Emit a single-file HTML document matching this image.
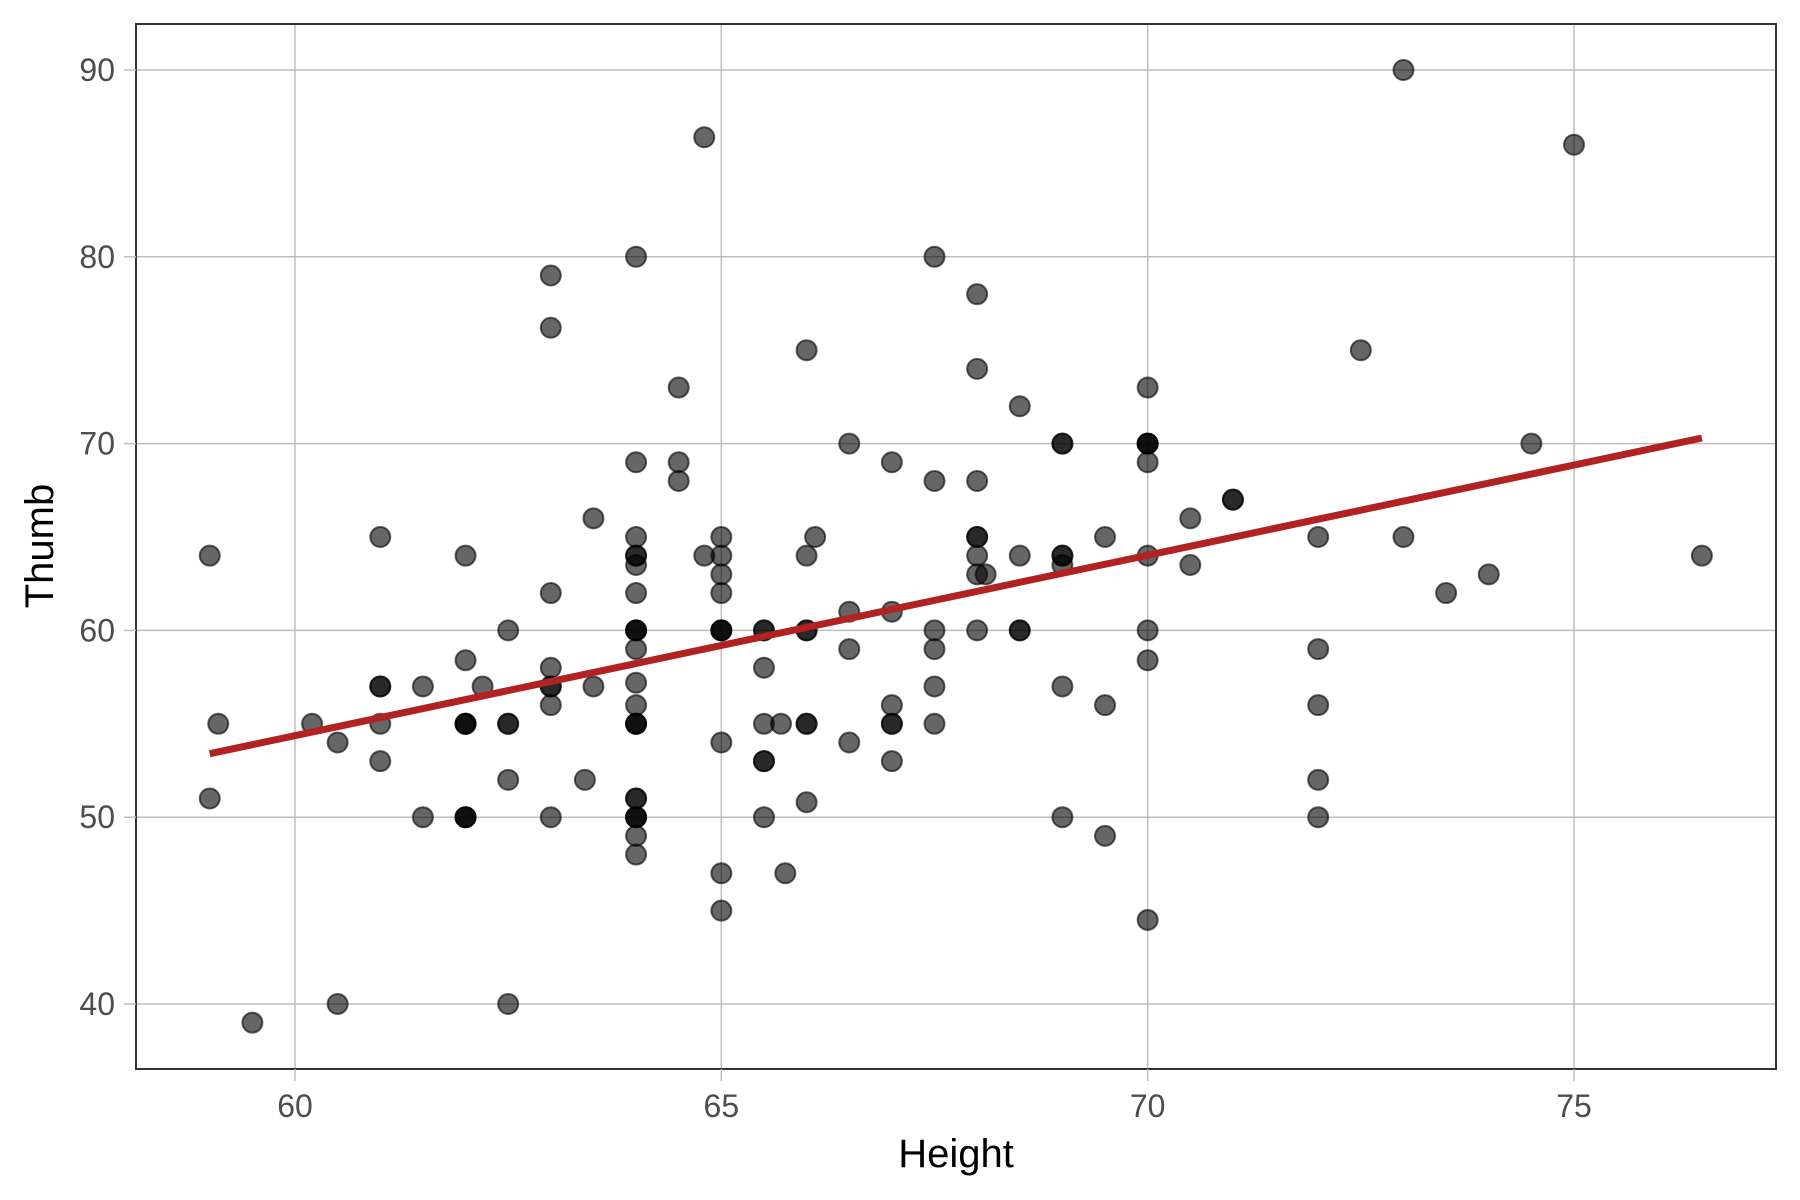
<!DOCTYPE html>
<html><head><meta charset="utf-8"><style>
html,body{margin:0;padding:0;background:#fff}
svg{display:block;font-family:"Liberation Sans",sans-serif}
</style></head><body>
<svg id="chart" width="1800" height="1200" viewBox="0 0 1800 1200">
<rect x="0" y="0" width="1800" height="1200" fill="#fff"/>
<g id="grid"></g>
<g id="pts"></g>
<g id="fit"></g>
<rect x="136" y="24" width="1640" height="1045" fill="none" stroke="#333" stroke-width="2"/>
<g id="axes"></g>
<text x="956" y="1167" text-anchor="middle" font-size="40" fill="#000">Height</text>
<text x="0" y="0" transform="translate(53,546) rotate(-90)" text-anchor="middle" font-size="40" fill="#000">Thumb</text>
</svg>
<script>
const heights=[59,59,59.1,59.5,60.2,60.5,60.5,61,61,61,61,61,61.5,61.5,62,62,62,62,62,62,62,62,62.2,62.5,62.5,62.5,62.5,62.5,63,63,63,63,63,63,63,63,63.4,63.5,63.5,64,64,64,64,64,64,64,64,64,64,64,64,64,64,64,64,64,64,64,64,64,64,64,64.5,64.5,64.5,64.8,64.8,65,65,65,65,65,65,65,65,65,65,65.5,65.5,65.5,65.5,65.5,65.5,65.5,65.7,65.75,66,66,66,66,66,66,66,66.1,66.5,66.5,66.5,66.5,67,67,67,67,67,67,67.5,67.5,67.5,67.5,67.5,67.5,68,68,68,68,68,68,68,68.1,68,68.5,68.5,68.5,68.5,69,69,69,69,69,69,69,69.5,69.5,69.5,70,70,70,70,70,70,70,70,70,70.5,70.5,71,71,72,72,72,72,72,72.5,73,73,73.5,74,74.5,75,76.5];
const thumbs=[64,51,55,39,55,54,40,65,57,57,55,53,57,50,64,58.4,55,55,55,50,50,50,57,60,55,55,52,40,79,76.2,62,58,57,57,56,50,52,66,57,80,69,65,64,64,63.5,62,60,60,60,59,57.2,56,55,55,55,51,51,50,50,50,49,48,73,69,68,86.4,64,65,64,63,62,60,60,60,54,47,45,60,60,58,55,53,53,50,55,47,75,64,60,60,55,55,50.8,65,70,61,59,54,69,61,56,55,55,53,80,68,60,59,57,55,78,74,68,65,65,64,63,63,60,72,64,60,60,70,70,64,64,63.5,57,50,65,56,49,73,70,70,70,69,64,60,58.4,44.5,66,63.5,67,67,65,59,56,52,50,75,90,65,62,63,70,86,64];
const xTicks=[60,65,70,75];
const yTicks=[40,50,60,70,80,90];
const fitX=[59,76.5];
const fitY=[53.4,70.3];
const NS="http://www.w3.org/2000/svg";
const L=136,R=1776,T=24,B=1069;
function sx(v){return 295+(v-60)*(1574-295)/15;}
function sy(v){return 1004-(v-40)*(1004-70)/50;}
function mk(tag,attrs,parent){const e=document.createElementNS(NS,tag);for(const k in attrs)e.setAttribute(k,attrs[k]);parent.appendChild(e);return e;}
const grid=document.getElementById('grid'),axes=document.getElementById('axes');
xTicks.forEach(t=>{
 const g=mk('line',{x1:sx(t),x2:sx(t),y1:T,y2:B,stroke:'#bdbdbd','stroke-width':1.5},grid);
 
 
 const tk=mk('line',{x1:sx(t),x2:sx(t),y1:B,y2:B+12,stroke:'#bdbdbd','stroke-width':1.5},axes);
 
 
 const tx=mk('text',{x:sx(t),y:1117,'text-anchor':'middle','font-size':32,fill:'#4d4d4d'},axes);
 tx.textContent=t;
 
 
});
yTicks.forEach(t=>{
 const g=mk('line',{x1:L,x2:R,y1:sy(t),y2:sy(t),stroke:'#bdbdbd','stroke-width':1.5},grid);
 
 
 const tk=mk('line',{x1:L-12,x2:L,y1:sy(t),y2:sy(t),stroke:'#bdbdbd','stroke-width':1.5},axes);
 
 
 const tx=mk('text',{x:115,y:sy(t)+11,'text-anchor':'end','font-size':32,fill:'#4d4d4d'},axes);
 tx.textContent=t;
 
 
});
const pts=document.getElementById('pts');
heights.forEach((h,i)=>{
 const c=mk('circle',{cx:sx(h),cy:sy(thumbs[i]),r:10,fill:'rgba(0,0,0,0.6)',stroke:'rgba(0,0,0,0.6)','stroke-width':2},pts);
 
 
});
const ln=mk('line',{x1:sx(fitX[0]),y1:sy(fitY[0]),x2:sx(fitX[1]),y2:sy(fitY[1]),stroke:'#b22222','stroke-width':7},document.getElementById('fit'));


</script>
</body></html>
